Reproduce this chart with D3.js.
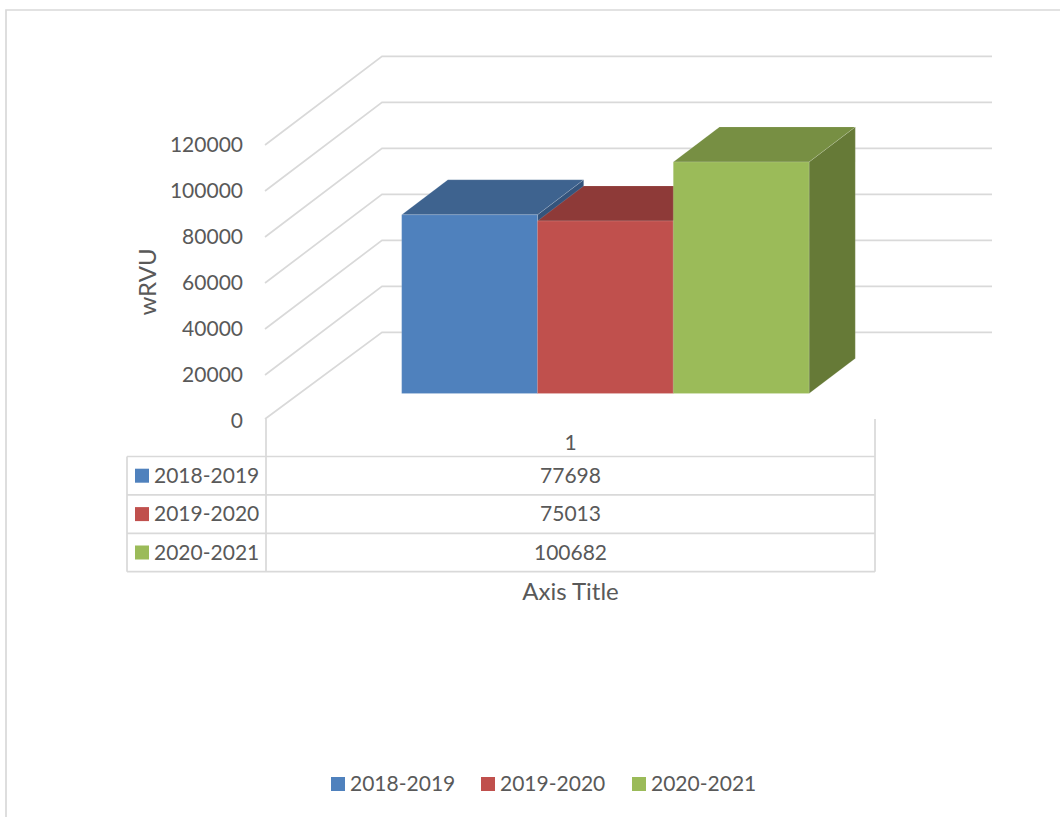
<!DOCTYPE html>
<html>
<head>
<meta charset="utf-8">
<script src="https://d3js.org/d3.v7.min.js"></script>
<style>
    html, body { margin: 0; padding: 0; background: #fff; }
    svg { display: block; }
    text { font-family: Lato, "Open Sans", sans-serif; fill: #595959; }
</style>
</head>
<body>
<div id="chart"></div>
<script>

    var seriesNames = ["2018-2019", "2019-2020", "2020-2021"]
    var seriesValues = [77698, 75013, 100682]
    var categories = ["1"]
    var yTicks = [0, 20000, 40000, 60000, 80000, 100000, 120000]

    var frontColors = ["#4F81BD", "#C0504D", "#9BBB59"]
    var topColors = ["#3E638F", "#8E3A38", "#778F43"]
    var sideColors = ["#34547C", "#7A302E", "#667A37"]

    var width = 1060, height = 817
    var fontSize = 21, titleSize = 24

    var svg = d3.select("#chart").append("svg")
        .attr("width", width)
        .attr("height", height)

    // chart area border
    svg.append("path")
        .attr("d", "M6,817V10H1060")
        .attr("fill", "none")
        .attr("stroke", "#D9D9D9")
        .attr("stroke-width", 1.7)

    // scales: y on the front plane, depth goes from front (0) to back wall (1)
    var y = d3.scaleLinear().domain([0, 120000]).range([421, 145])
    var depthX = d3.scaleLinear().domain([0, 1]).range([0, 117])
    var depthY = d3.scaleLinear().domain([0, 1]).range([0, -88.7])
    var xCat = d3.scaleBand().domain(categories).range([266, 875])
    var xSeries = d3.scaleBand().domain(seriesNames).range([365.4, 772.8])

    var wallLeft = 265, wallRight = 875

    function project(x, v, d) {
        return [x + depthX(d), y(v) + depthY(d)]
    }

    // gridlines on side wall and back wall
    var line = d3.line()
    svg.append("g").selectAll("path")
        .data(yTicks.slice())
        .enter()
        .append("path")
        .attr("d", function (d) {
            return line([
                d == 0 ? [wallLeft, 419] : project(wallLeft, d, 0),
                project(wallLeft, d, 1),
                project(wallRight, d, 1)
            ])
        })
        .attr("fill", "none")
        .attr("stroke", "#D9D9D9")
        .attr("stroke-width", 1.7)

    // y axis
    var yAxis = svg.append("g")
        .attr("transform", "translate(243,0)")
        .call(d3.axisLeft(y).tickValues(yTicks).tickSize(0).tickPadding(0).tickFormat(d3.format("d")))
    yAxis.select(".domain").remove()
    yAxis.selectAll("text").style("font-size", fontSize + "px").style("font-family", null)

    svg.append("text")
        .attr("transform", "translate(150,282) rotate(-90)")
        .attr("text-anchor", "middle")
        .attr("dominant-baseline", "middle")
        .style("font-size", titleSize + "px")
        .text("wRVU")

    // 3d bars, painted left to right
    var d0 = 0.31, d1 = 0.705
    var bars = svg.append("g").selectAll("g")
        .data(seriesValues)
        .enter()
        .append("g")
        .attr("stroke", "#fff")
        .attr("stroke-opacity", 0.2)
        .attr("stroke-width", 0.7)
        .attr("stroke-linejoin", "round")

    // bar x is the left edge on the floor at depth 0
    function bx(i) { return xSeries(seriesNames[i]) }

    bars.append("path")
        .attr("fill", function (d, i) { return sideColors[i] })
        .attr("d", function (d, i) {
            var r = bx(i) + xSeries.bandwidth()
            return line([project(r, d, d0), project(r, d, d1), project(r, 0, d1), project(r, 0, d0)]) + "Z"
        })
    bars.append("path")
        .attr("fill", function (d, i) { return topColors[i] })
        .attr("d", function (d, i) {
            var l = bx(i), r = l + xSeries.bandwidth()
            return line([project(l, d, d0), project(l, d, d1), project(r, d, d1), project(r, d, d0)]) + "Z"
        })
    bars.append("path")
        .attr("fill", function (d, i) { return frontColors[i] })
        .attr("d", function (d, i) {
            var l = bx(i), r = l + xSeries.bandwidth()
            return line([project(l, d, d0), project(r, d, d0), project(r, 0, d0), project(l, 0, d0)]) + "Z"
        })

    // data table under the plot
    var rowH = 38.4, tableTop = 456.5, tableLeft = 127, keyRight = 266, tableRight = 875
    var rows = d3.range(seriesNames.length + 1)
    var grid = svg.append("g").attr("stroke", "#D9D9D9").attr("stroke-width", 1.7)
    grid.selectAll(".h").data(rows).enter().append("line")
        .attr("x1", tableLeft).attr("x2", tableRight)
        .attr("y1", function (d) { return tableTop + d * rowH })
        .attr("y2", function (d) { return tableTop + d * rowH })
    grid.selectAll(".v").data([
            [tableLeft, tableTop], [keyRight, 419], [tableRight, 419]
        ]).enter().append("line")
        .attr("x1", function (d) { return d[0] }).attr("x2", function (d) { return d[0] })
        .attr("y1", function (d) { return d[1] })
        .attr("y2", tableTop + seriesNames.length * rowH)

    svg.append("text")
        .attr("x", xCat(categories[0]) + xCat.bandwidth() / 2)
        .attr("y", 445)
        .attr("text-anchor", "middle")
        .attr("dominant-baseline", "middle")
        .style("font-size", fontSize + "px")
        .text(categories[0])

    var tableRows = svg.append("g").selectAll("g")
        .data(seriesNames)
        .enter()
        .append("g")
        .attr("transform", function (d, i) { return "translate(0," + (tableTop + (i + 0.5) * rowH) + ")" })
    tableRows.append("rect")
        .attr("x", 135).attr("y", -7).attr("width", 14).attr("height", 14)
        .attr("fill", function (d, i) { return frontColors[i] })
    tableRows.append("text")
        .attr("x", 154).attr("y", 2).attr("dominant-baseline", "middle")
        .style("font-size", fontSize + "px")
        .text(function (d) { return d })
    tableRows.append("text")
        .attr("x", xCat(categories[0]) + xCat.bandwidth() / 2).attr("y", 2)
        .attr("text-anchor", "middle").attr("dominant-baseline", "middle")
        .style("font-size", fontSize + "px")
        .text(function (d, i) { return seriesValues[i] })

    svg.append("text")
        .attr("x", 570.5).attr("y", 594)
        .attr("text-anchor", "middle").attr("dominant-baseline", "middle")
        .style("font-size", titleSize + "px")
        .text("Axis Title")

    // legend at the bottom
    var legendX = [331, 481, 632]
    var legend = svg.append("g").selectAll("g")
        .data(seriesNames)
        .enter()
        .append("g")
        .attr("transform", function (d, i) { return "translate(" + legendX[i] + ",784)" })
    legend.append("rect")
        .attr("x", 0).attr("y", -7).attr("width", 14).attr("height", 14)
        .attr("fill", function (d, i) { return frontColors[i] })
    legend.append("text")
        .attr("x", 19).attr("y", 1.5).attr("dominant-baseline", "middle")
        .style("font-size", fontSize + "px")
        .text(function (d) { return d })

</script>
</body>
</html>
